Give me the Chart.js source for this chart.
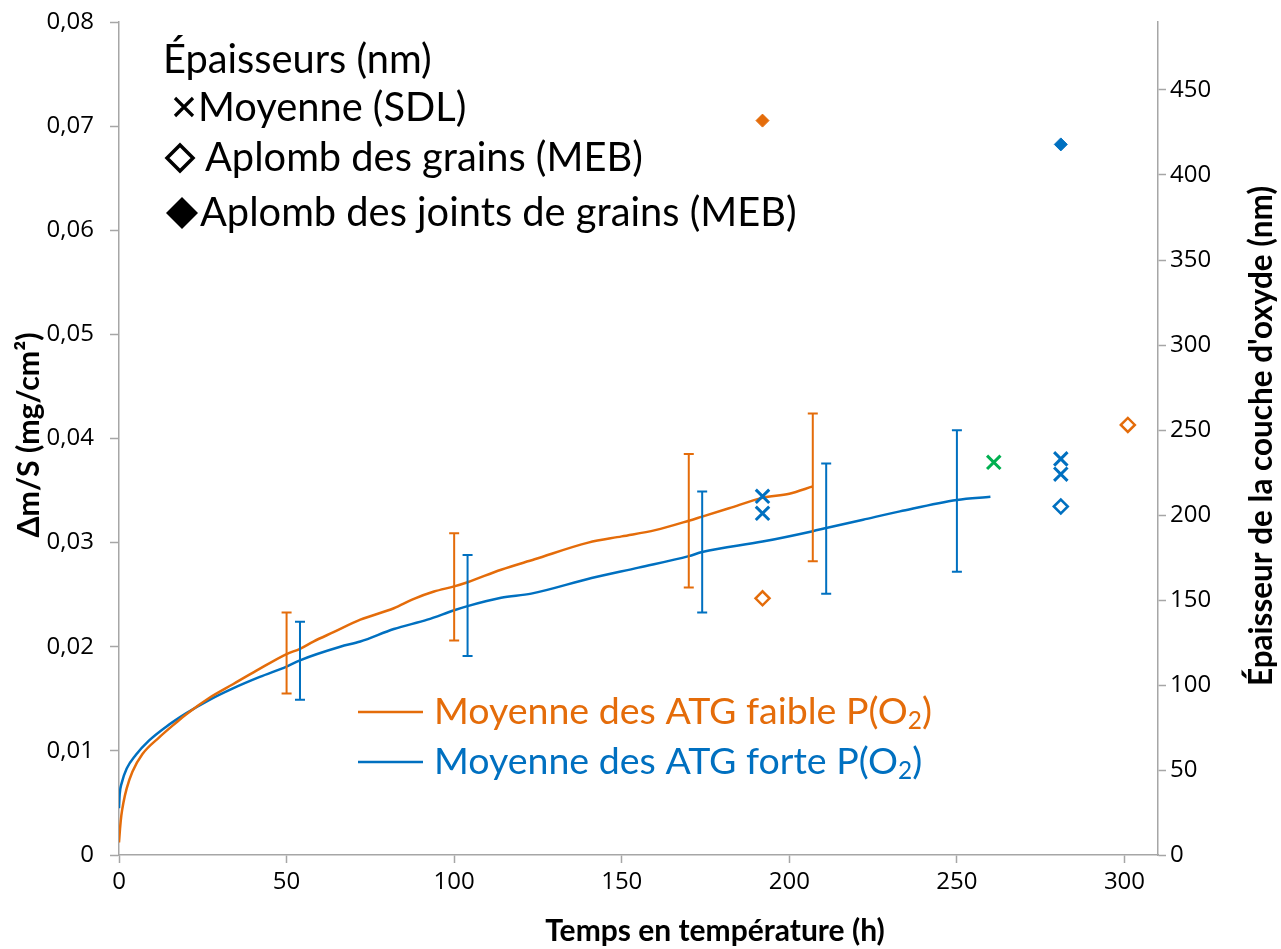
<!DOCTYPE html>
<html>
<head>
<meta charset="utf-8">
<script src="https://cdn.jsdelivr.net/npm/chart.js@4.4.1/dist/chart.umd.min.js"></script>
<style>
  html, body { margin: 0; padding: 0; background: #fff; }
  #wrap { width: 1281px; height: 949px; }
</style>
</head>
<body>
<div id="wrap"><canvas id="chart"></canvas></div>
<script>
// ATG curves (time in h, mass gain in mg/cm2)
const timeFaible = [0, 0.3, 0.7, 1.3, 2.3, 4, 7, 12, 17, 20, 27, 34, 41, 50, 54, 58, 64, 72, 82, 88, 94, 100, 104, 114, 124, 140, 150, 160, 170, 174, 182, 192, 200, 207];
const massFaible = [0.0012, 0.0025, 0.0038, 0.0050, 0.0064, 0.0080, 0.0097, 0.0113, 0.0127, 0.0135, 0.0151, 0.0164, 0.0177, 0.0193, 0.0198, 0.0205, 0.0214, 0.0226, 0.0237, 0.0246, 0.0253, 0.0258, 0.0262, 0.0274, 0.0284, 0.0300, 0.0306, 0.0312, 0.0321, 0.0325, 0.0333, 0.0343, 0.0347, 0.0354];
const timeForte = [0, 0.2, 0.8, 2.3, 5, 9, 14, 20, 27, 34, 42, 50, 54, 66, 72, 82, 92, 100, 104, 114, 123, 141, 155, 170, 174, 192, 207, 211, 222, 233, 250, 260];
const massForte = [0.0045, 0.0058, 0.0069, 0.0083, 0.0096, 0.0110, 0.0123, 0.0136, 0.0149, 0.0160, 0.0171, 0.0181, 0.0187, 0.0200, 0.0205, 0.0217, 0.0226, 0.0235, 0.0239, 0.0247, 0.0251, 0.0266, 0.0276, 0.0287, 0.0291, 0.0301, 0.0311, 0.0314, 0.0322, 0.0330, 0.0341, 0.0344];

// error bars
const errTimeFaible = [50, 100, 170, 207];
const errLowFaible = [0.0155, 0.0206, 0.0257, 0.0282];
const errHighFaible = [0.0233, 0.0309, 0.0385, 0.0424];
const errTimeForte = [54, 104, 174, 211, 250];
const errLowForte = [0.0149, 0.0191, 0.0233, 0.0251, 0.0272];
const errHighForte = [0.0224, 0.0288, 0.0349, 0.0376, 0.0408];

// thicknesses (nm, right axis)
const sdlTimeForte = [192, 192, 281, 281];
const sdlNmForte = [211, 201, 233, 224];
const sdlTimeVert = [261];
const sdlNmVert = [231];
const grainsTimeFaible = [192, 301];
const grainsNmFaible = [151, 253];
const grainsTimeForte = [281];
const grainsNmForte = [205];
const jointsTimeFaible = [192];
const jointsNmFaible = [432];
const jointsTimeForte = [281];
const jointsNmForte = [418];

const ORANGE = '#E46C0A';
const BLUE = '#0070C0';
const GREEN = '#00B050';
const AXIS = '#A6A6A6';

const pts = (xs, ys) => xs.map((x, i) => ({ x: x, y: ys[i] }));

function fitSize(ctx, text, width, weight, family) {
  ctx.font = weight + ' 100px ' + family;
  return 100 * width / ctx.measureText(text).width;
}

const overlay = {
  id: 'overlay',
  afterDatasetsDraw(chart) {
    const ctx = chart.ctx;
    const x = chart.scales.x, y = chart.scales.y;
    ctx.save();
    // error bars
    const drawErr = (ts, lo, hi, color) => {
      ctx.strokeStyle = color;
      ctx.lineWidth = 2;
      ts.forEach((t, i) => {
        const px = x.getPixelForValue(t);
        const p1 = y.getPixelForValue(lo[i]);
        const p2 = y.getPixelForValue(hi[i]);
        ctx.beginPath();
        ctx.moveTo(px, p1); ctx.lineTo(px, p2);
        ctx.moveTo(px - 5, p1); ctx.lineTo(px + 5, p1);
        ctx.moveTo(px - 5, p2); ctx.lineTo(px + 5, p2);
        ctx.stroke();
      });
    };
    drawErr(errTimeFaible, errLowFaible, errHighFaible, ORANGE);
    drawErr(errTimeForte, errLowForte, errHighForte, BLUE);

    // thickness legend (top left)
    ctx.textBaseline = 'middle';
    ctx.textAlign = 'left';
    ctx.fillStyle = '#000';
    const fam = 'Lato, "Open Sans", sans-serif';
    const legSize = fitSize(ctx, 'Aplomb des joints de grains (MEB)', 597, 'normal', fam);
    ctx.font = 'normal ' + legSize.toFixed(1) + 'px ' + fam;
    ctx.fillText('Épaisseurs (nm)', 163, 60);
    ctx.fillText('Moyenne (SDL)', 198, 108);
    ctx.fillText('Aplomb des grains (MEB)', 205, 158);
    ctx.fillText('Aplomb des joints de grains (MEB)', 200, 213);
    // legend symbols
    ctx.strokeStyle = '#000';
    ctx.lineWidth = 3.2;
    ctx.beginPath();
    ctx.moveTo(175, 98); ctx.lineTo(193, 116);
    ctx.moveTo(193, 98); ctx.lineTo(175, 116);
    ctx.stroke();
    ctx.lineWidth = 3.5;
    ctx.beginPath();
    ctx.moveTo(180, 145); ctx.lineTo(193, 158); ctx.lineTo(180, 171); ctx.lineTo(167, 158); ctx.closePath();
    ctx.stroke();
    ctx.beginPath();
    ctx.moveTo(182, 197); ctx.lineTo(198, 213); ctx.lineTo(182, 229); ctx.lineTo(166, 213); ctx.closePath();
    ctx.fill();

    // curve legend (bottom)
    const lines = [
      { c: ORANGE, y: 712, a: 'Moyenne des ATG faible P(O' },
      { c: BLUE, y: 762, a: 'Moyenne des ATG forte P(O' }
    ];
    const bigSize = fitSize(ctx, 'Moyenne des ATG faible P(O2)', 505, 'normal', fam);
    const bigFont = 'normal ' + bigSize.toFixed(1) + 'px ' + fam;
    const subFont = 'normal ' + (bigSize * 0.65).toFixed(1) + 'px ' + fam;
    lines.forEach(l => {
      ctx.strokeStyle = l.c;
      ctx.lineWidth = 2.5;
      ctx.beginPath();
      ctx.moveTo(358, l.y); ctx.lineTo(423, l.y);
      ctx.stroke();
      ctx.fillStyle = l.c;
      ctx.textAlign = 'left';
      ctx.font = bigFont;
      ctx.fillText(l.a, 434, l.y);
      let px = 434 + ctx.measureText(l.a).width;
      ctx.font = subFont;
      ctx.fillText('2', px, l.y + bigSize * 0.25);
      px += ctx.measureText('2').width;
      ctx.font = bigFont;
      ctx.fillText(')', px, l.y);
    });

    // axis titles
    const tfam = 'Lato, sans-serif';
    ctx.fillStyle = '#000';
    ctx.textAlign = 'center';
    const xt = 'Temps en température (h)';
    ctx.font = 'bold ' + fitSize(ctx, xt, 340, 'bold', tfam).toFixed(1) + 'px ' + tfam;
    ctx.fillText(xt, 715, 931);
    const lt = 'Δm/S (mg/cm²)';
    ctx.save();
    ctx.translate(29, 435);
    ctx.rotate(-Math.PI / 2);
    ctx.font = 'bold ' + fitSize(ctx, lt, 205, 'bold', tfam).toFixed(1) + 'px ' + tfam;
    ctx.fillText(lt, 0, 0);
    ctx.restore();
    const rt = 'Épaisseur de la couche d\'oxyde (nm)';
    ctx.save();
    ctx.translate(1262, 436);
    ctx.rotate(-Math.PI / 2);
    ctx.font = 'bold ' + fitSize(ctx, rt, 500, 'bold', tfam).toFixed(1) + 'px ' + tfam;
    ctx.fillText(rt, 0, 0);
    ctx.restore();
    ctx.restore();
  }
};

const tickFont = { family: '"Open Sans", sans-serif', size: 24 };
const noPad = s => { s.paddingTop = 0; s.paddingBottom = 0; s.paddingLeft = 0; s.paddingRight = 0; };

new Chart(document.getElementById('chart'), {
  type: 'scatter',
  data: {
    datasets: [
      { label: 'Joints faible', data: pts(jointsTimeFaible, jointsNmFaible), yAxisID: 'y2', pointStyle: 'rectRot', pointRadius: 6.5, backgroundColor: ORANGE, borderColor: ORANGE, borderWidth: 1 },
      { label: 'Joints forte', data: pts(jointsTimeForte, jointsNmForte), yAxisID: 'y2', pointStyle: 'rectRot', pointRadius: 6.5, backgroundColor: BLUE, borderColor: BLUE, borderWidth: 1 },
      { label: 'Grains faible', data: pts(grainsTimeFaible, grainsNmFaible), yAxisID: 'y2', pointStyle: 'rectRot', pointRadius: 7, backgroundColor: '#fff', borderColor: ORANGE, borderWidth: 2.5 },
      { label: 'Grains forte', data: pts(grainsTimeForte, grainsNmForte), yAxisID: 'y2', pointStyle: 'rectRot', pointRadius: 7, backgroundColor: '#fff', borderColor: BLUE, borderWidth: 2.5 },
      { label: 'SDL forte', data: pts(sdlTimeForte, sdlNmForte), yAxisID: 'y2', pointStyle: 'crossRot', pointRadius: 9.5, borderColor: BLUE, borderWidth: 3 },
      { label: 'SDL', data: pts(sdlTimeVert, sdlNmVert), yAxisID: 'y2', pointStyle: 'crossRot', pointRadius: 9.5, borderColor: GREEN, borderWidth: 3 },
      { label: 'Moyenne des ATG faible P(O2)', data: pts(timeFaible, massFaible), yAxisID: 'y', showLine: true, borderColor: ORANGE, borderWidth: 2.5, pointRadius: 0, cubicInterpolationMode: 'monotone' },
      { label: 'Moyenne des ATG forte P(O2)', data: pts(timeForte, massForte), yAxisID: 'y', showLine: true, borderColor: BLUE, borderWidth: 2.5, pointRadius: 0, cubicInterpolationMode: 'monotone' }
    ]
  },
  options: {
    responsive: true,
    maintainAspectRatio: false,
    animation: false,
    layout: { padding: { top: 22, left: 0, right: 0, bottom: 0 } },
    plugins: { legend: { display: false }, tooltip: { enabled: false } },
    scales: {
      x: {
        type: 'linear', min: 0, max: 310,
        ticks: { stepSize: 50, includeBounds: false, color: '#000', font: tickFont, padding: 5, maxRotation: 0 },
        grid: { drawOnChartArea: false, tickLength: 8, color: AXIS, tickWidth: 1.5 },
        border: { color: AXIS, width: 1.5 },
        afterFit: s => { s.height = 94; noPad(s); }
      },
      y: {
        position: 'left', min: 0, max: 0.08,
        ticks: { stepSize: 0.01, color: '#000', font: tickFont, padding: 16,
          callback: v => v === 0 ? '0' : v.toFixed(2).replace('.', ',') },
        grid: { drawOnChartArea: false, tickLength: 9, color: AXIS, tickWidth: 1.5 },
        border: { color: AXIS, width: 1.5 },
        afterFit: s => { s.width = 119; noPad(s); }
      },
      y2: {
        position: 'right', min: 0, max: 490,
        ticks: { stepSize: 50, includeBounds: false, color: '#000', font: tickFont, padding: 4 },
        grid: { drawOnChartArea: false, tickLength: 8, color: AXIS, tickWidth: 1.5 },
        border: { color: AXIS, width: 1.5 },
        afterFit: s => { s.width = 123; noPad(s); }
      }
    }
  },
  plugins: [overlay]
});
</script>
</body>
</html>
